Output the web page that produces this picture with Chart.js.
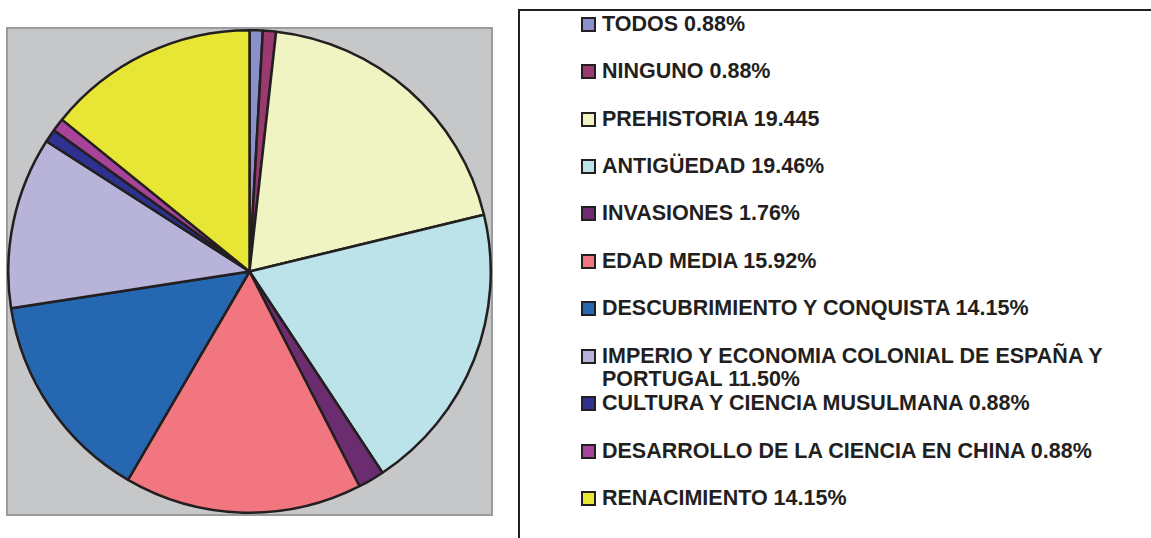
<!DOCTYPE html>
<html>
<head>
<meta charset="utf-8">
<script src="https://cdn.jsdelivr.net/npm/chart.js@4"></script>
<style>
	html, body { margin: 0; padding: 0; background: #fff; }
	body { width: 1151px; height: 538px; position: relative; overflow: hidden; font-family: "Liberation Sans", Arial, sans-serif; }
	#plotBox { position: absolute; left: 6px; top: 27px; width: 483px; height: 485px; background: #c6c7c9; border: 2px solid #9a9b9d; }
	#pie { position: absolute; left: 7px; top: 28px; }
	#legendBox { position: absolute; left: 518px; top: 9px; width: 700px; height: 600px; border-left: 2px solid #231f20; border-top: 2px solid #231f20; }
	.item { position: absolute; left: 581px; font-weight: bold; font-size: 21.5px; line-height: 23px; color: #231f20; }
	.item .sq { position: absolute; left: 0; top: 4px; width: 15px; height: 15px; box-sizing: border-box; border: 2px solid #231f20; }
	.item .txt { margin-left: 21px; width: 515px; }
</style>
</head>
<body>
<div id="plotBox"></div>
<canvas id="pie" width="485" height="487"></canvas>
<div id="legendBox"></div>
<div id="legend"></div>
<script>
var categories = [
	"TODOS 0.88%",
	"NINGUNO 0.88%",
	"PREHISTORIA 19.445",
	"ANTIGÜEDAD 19.46%",
	"INVASIONES 1.76%",
	"EDAD MEDIA 15.92%",
	"DESCUBRIMIENTO Y CONQUISTA 14.15%",
	"IMPERIO Y ECONOMIA COLONIAL DE ESPAÑA Y PORTUGAL 11.50%",
	"CULTURA Y CIENCIA MUSULMANA 0.88%",
	"DESARROLLO DE LA CIENCIA EN CHINA 0.88%",
	"RENACIMIENTO 14.15%"
];
var values = [0.88, 0.88, 19.445, 19.46, 1.76, 15.92, 14.15, 11.50, 0.88, 0.88, 14.15];
var colors = ["#8b8fca", "#9b3a6e", "#f0f4c3", "#bbe3e9", "#6b2d70", "#f2767f", "#2567b0", "#b7b3d9", "#2e3190", "#a8439a", "#e8e634"];

// legend built by hand, one slot per category
var legend = document.getElementById('legend');
for (var i = 0; i < categories.length; i++) {
	var item = document.createElement('div');
	item.className = 'item';
	item.style.top = (12.6 + 47.45 * i) + 'px';
	var sq = document.createElement('span');
	sq.className = 'sq';
	sq.style.background = colors[i];
	var txt = document.createElement('div');
	txt.className = 'txt';
	txt.textContent = categories[i];
	item.appendChild(sq);
	item.appendChild(txt);
	legend.appendChild(item);
}

new Chart(document.getElementById('pie'), {
	type: 'pie',
	data: {
		labels: categories,
		datasets: [{
			data: values,
			backgroundColor: colors,
			borderColor: "#231f20",
			borderWidth: 2.5,
			borderAlign: 'center'
		}]
	},
	options: {
		responsive: false,
		animation: false,
		devicePixelRatio: 1,
		layout: { padding: 0 },
		plugins: {
			legend: { display: false },
			tooltip: { enabled: false }
		}
	}
});
</script>
</body>
</html>
